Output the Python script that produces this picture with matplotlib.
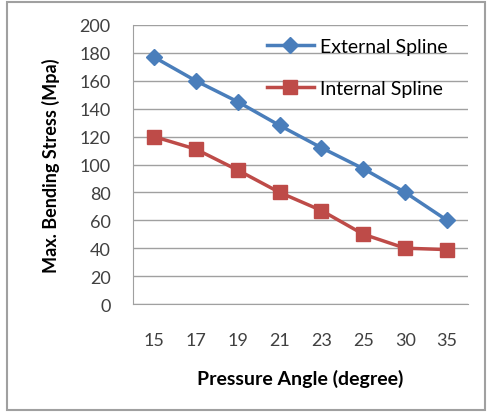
import numpy as np
import matplotlib.pyplot as plt
from matplotlib.patches import Rectangle

## pressure angles (categories) and bending stress for each spline
angles = ['15', '17', '19', '21', '23', '25', '30', '35']
external = [177, 160, 145, 128, 112, 97, 80, 60]
internal = [120, 111, 96, 80, 67, 50, 40, 39]

plt.rcParams['font.family'] = ['Lato', 'DejaVu Sans']

fig = plt.figure(figsize=(4.88, 4.14), dpi=100)
ax = fig.add_axes([133/488, 1 - 305/414, 335/488, 279/414])

x = np.arange(len(angles))
ax.plot(x, external, color='#4a7ebb', lw=2.5, marker='D', ms=8,
        label='External Spline', zorder=3)
ax.plot(x, internal, color='#be4b48', lw=2.5, marker='s', ms=10,
        label='Internal Spline', zorder=3)

ax.set_xlim(-0.5, len(angles) - 0.5)
ax.set_ylim(0, 200)
ax.set_yticks(range(0, 201, 20))
ax.set_xticks(x)
ax.set_xticklabels(angles)
ax.tick_params(axis='both', length=0, labelsize=13, colors='#404040')
ax.tick_params(axis='x', pad=20)
ax.tick_params(axis='y', pad=16)
ax.grid(axis='y', color='#a0a0a0', lw=1)
ax.set_axisbelow(True)
for s in ['top', 'right']:
    ax.spines[s].set_visible(False)
ax.spines['left'].set_color('#a0a0a0')
ax.spines['bottom'].set_color('#a0a0a0')

ax.set_xlabel('Pressure Angle (degree)', fontsize=14, fontweight='bold', labelpad=15)
ax.set_ylabel('Max. Bending Stress (Mpa)', fontsize=13, fontweight='bold', labelpad=14)

ax.legend(loc='upper left', bbox_to_anchor=(0.40, 0.955), frameon=False,
          borderaxespad=0, borderpad=0, fontsize=14, handlelength=2.4,
          labelspacing=1.3, handletextpad=0.3)

## outer frame around the chart
fig.patches.append(Rectangle((7/488, 3/414), 478/488, 408/414, transform=fig.transFigure,
                             fill=False, edgecolor='#a0a0a0', lw=1.5))

plt.savefig('out.png', dpi=100)
